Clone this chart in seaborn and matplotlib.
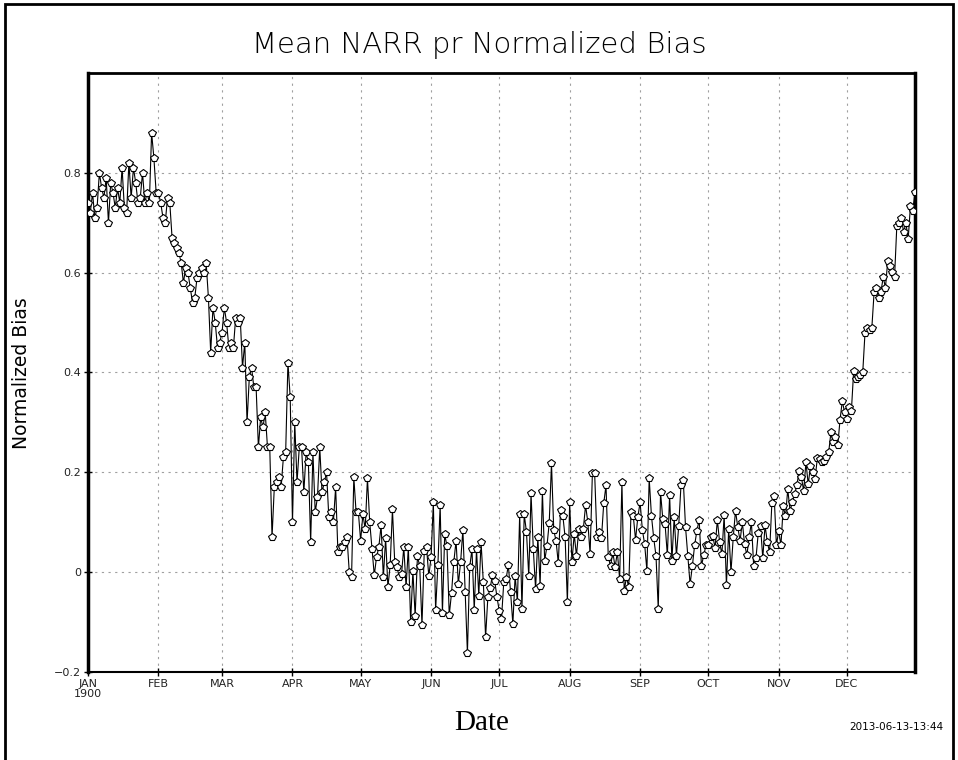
import numpy as np
import pandas as pd
import matplotlib
matplotlib.use("Agg")
import matplotlib.pyplot as plt
from matplotlib.patches import Rectangle
import seaborn as sns

# ---- data (daily values, year 1900) ----
jan = [0.74, 0.72, 0.76, 0.71, 0.73, 0.80, 0.77, 0.75, 0.79, 0.70, 0.78, 0.76, 0.73, 0.77, 0.74,
       0.81, 0.73, 0.72, 0.82, 0.75, 0.81, 0.78, 0.74, 0.75, 0.80, 0.74, 0.76, 0.74, 0.88, 0.83, 0.76]
feb = [0.76, 0.74, 0.71, 0.70, 0.75, 0.74, 0.67, 0.66, 0.65, 0.64, 0.62, 0.58, 0.61, 0.60, 0.57,
       0.54, 0.55, 0.59, 0.60, 0.61, 0.60, 0.62, 0.55, 0.44, 0.53, 0.50, 0.45, 0.46]
mar = [0.48, 0.53, 0.50, 0.45, 0.46, 0.45, 0.51, 0.50, 0.51, 0.41, 0.46, 0.30, 0.39, 0.41, 0.37,
       0.37, 0.25, 0.31, 0.29, 0.32, 0.25, 0.25, 0.07, 0.17, 0.18, 0.19, 0.17, 0.23, 0.24, 0.42, 0.35]
apr = [0.10, 0.30, 0.18, 0.25, 0.25, 0.16, 0.24, 0.22, 0.06, 0.24, 0.12, 0.15, 0.25, 0.16, 0.18,
       0.20, 0.11, 0.12, 0.10, 0.17, 0.04, 0.05, 0.05, 0.06, 0.07, 0.00, -0.01, 0.19, 0.12, 0.12]
may = [0.063, 0.116, 0.086, 0.188, 0.10, 0.046, -0.006, 0.03, 0.05, 0.094, -0.01, 0.068, -0.03,
       0.014, 0.126, 0.02, 0.01, -0.01, -0.004, 0.05, -0.03, 0.05, -0.10, 0.002, -0.088, 0.032,
       0.012, -0.106, 0.042, 0.05, -0.008]
jun = [0.03, 0.14, -0.076, 0.014, 0.134, -0.082, 0.076, 0.052, -0.086, -0.042, 0.02, 0.063,
       -0.024, 0.02, 0.085, -0.04, -0.162, 0.01, 0.046, -0.076, 0.046, -0.047, 0.06, -0.02, -0.13,
       -0.05, -0.032, -0.006, -0.017, -0.05]
jul = [-0.077, -0.093, -0.02, -0.014, 0.014, -0.04, -0.104, -0.007, -0.06, 0.116, -0.074, 0.116,
       0.08, -0.008, 0.158, 0.046, -0.034, 0.07, -0.027, 0.163, 0.023, 0.052, 0.098, 0.218, 0.084,
       0.063, 0.018, 0.125, 0.113, 0.07, -0.06]
aug = [0.14, 0.02, 0.076, 0.033, 0.086, 0.07, 0.086, 0.134, 0.10, 0.036, 0.198, 0.198, 0.07, 0.08,
       0.068, 0.138, 0.174, 0.03, 0.012, 0.04, 0.01, 0.04, -0.014, 0.181, -0.037, -0.01, -0.03,
       0.12, 0.113, 0.065, 0.11]
sep = [0.14, 0.085, 0.056, 0.003, 0.188, 0.113, 0.068, 0.033, -0.074, 0.16, 0.106, 0.096, 0.034,
       0.154, 0.023, 0.11, 0.033, 0.093, 0.174, 0.185, 0.09, 0.033, -0.024, 0.012, 0.054, 0.083,
       0.105, 0.013, 0.034, 0.054]
oct_ = [0.054, 0.07, 0.073, 0.048, 0.105, 0.06, 0.036, 0.114, -0.026, 0.086, 0.0, 0.07, 0.123,
        0.09, 0.063, 0.10, 0.056, 0.034, 0.07, 0.10, 0.012, 0.028, 0.078, 0.093, 0.028, 0.094,
        0.06, 0.04, 0.138, 0.153, 0.054]
nov = [0.083, 0.054, 0.132, 0.112, 0.166, 0.123, 0.14, 0.156, 0.174, 0.203, 0.19, 0.163, 0.22,
       0.176, 0.213, 0.20, 0.186, 0.228, 0.226, 0.22, 0.223, 0.23, 0.24, 0.28, 0.26, 0.27, 0.254,
       0.305, 0.343, 0.32]
dec = [0.306, 0.33, 0.323, 0.403, 0.387, 0.39, 0.395, 0.40, 0.48, 0.49, 0.485, 0.489, 0.561,
       0.569, 0.55, 0.561, 0.591, 0.57, 0.624, 0.614, 0.602, 0.591, 0.694, 0.70, 0.709, 0.681,
       0.70, 0.667, 0.734, 0.724, 0.761]

month_labels = ["JAN\n1900", "FEB", "MAR", "APR", "MAY", "JUN", "JUL", "AUG", "SEP", "OCT", "NOV", "DEC"]
y_ticks = [-0.2, 0.0, 0.2, 0.4, 0.6, 0.8]
y_tick_labels = ["\u22120.2", "0", "0.2", "0.4", "0.6", "0.8"]

values = jan + feb + mar + apr + may + jun + jul + aug + sep + oct_ + nov + dec
dates = pd.date_range("1900-01-01", periods=len(values), freq="D")
df = pd.DataFrame({"Date": dates, "Normalized Bias": values})

# ---- figure ----
sns.set_theme(style="white")
plt.rcParams["font.family"] = ["DejaVu Sans"]

fig = plt.figure(figsize=(9.58, 7.6), dpi=100)
ax = fig.add_axes([88 / 958, 88 / 760, (915 - 88) / 958, (672 - 73) / 760])

sns.lineplot(data=df, x="Date", y="Normalized Bias", ax=ax, color="black", linewidth=0.8,
             marker="p", markersize=5.5, markerfacecolor="white", markeredgecolor="black",
             markeredgewidth=0.8, zorder=3)

ax.set_xlim(dates[0], dates[-1])
ax.set_ylim(-0.2, 1.0)

month_starts = pd.date_range("1900-01-01", periods=12, freq="MS")
ax.set_xticks(month_starts)
ax.set_xticklabels(month_labels, fontsize=8, linespacing=0.95)
ax.set_yticks(y_ticks)
ax.set_yticklabels(y_tick_labels, fontsize=8)
ax.tick_params(axis="both", direction="inout", length=6, width=1, color="black", pad=2,
               bottom=True, left=True, labelcolor="#222222")

ax.grid(True, color="#a0a0a0", linestyle=(0, (2, 4)), linewidth=0.8)
ax.set_axisbelow(True)

for side, lw in [("left", 2.5), ("top", 2.0), ("right", 2.5), ("bottom", 1.5)]:
    ax.spines[side].set_visible(True)
    ax.spines[side].set_color("black")
    ax.spines[side].set_linewidth(lw)
ax.spines["bottom"].set_linestyle((0, (4, 1)))

ax.set_xlabel("")
ax.set_ylabel("")

fig.text(479 / 958, 1 - 45 / 760, "Mean NARR pr Normalized Bias", ha="center", va="center",
         fontsize=21, color="black", fontweight="light")
fig.text(22 / 958, 1 - 373 / 760, "Normalized Bias", rotation=90, ha="center", va="center",
         fontsize=13.5, color="black")
fig.text(482 / 958, 1 - 723 / 760, "Date", ha="center", va="center", fontsize=21,
         family=["Liberation Serif", "DejaVu Serif"], color="black")
fig.text(896 / 958, 1 - 727 / 760, "2013-06-13-13:44", ha="center", va="center", fontsize=7.5,
         color="black")

# outer frame
fig.patches.append(Rectangle((5 / 958, -0.01), (953 - 5) / 958, (760 - 4) / 760 + 0.01,
                             transform=fig.transFigure, fill=False, edgecolor="black",
                             linewidth=2, figure=fig))

fig.savefig("out.png", dpi=100)
